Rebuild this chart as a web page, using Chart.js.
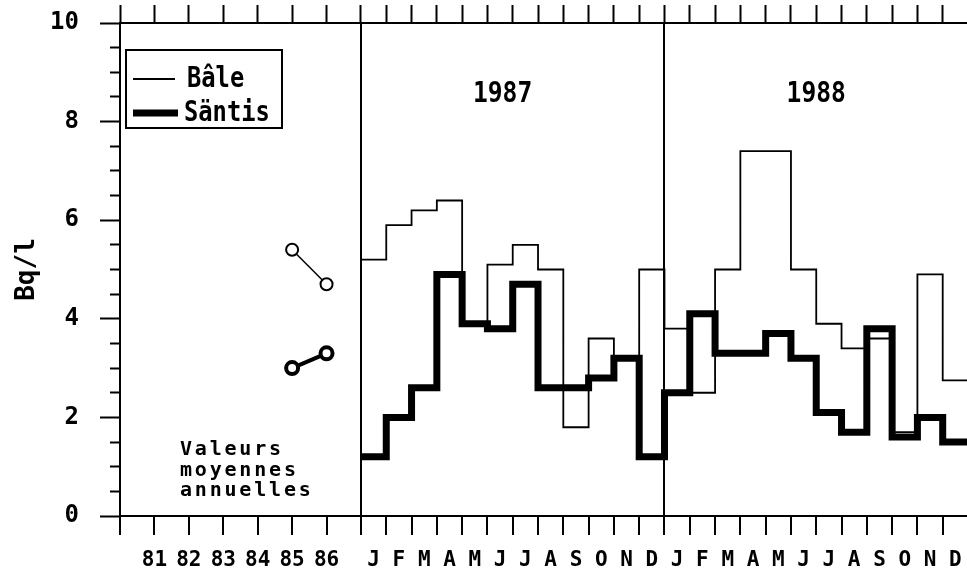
<!DOCTYPE html>
<html>
<head>
<meta charset="utf-8">
<script src="https://cdn.jsdelivr.net/npm/chart.js@4.4.0/dist/chart.umd.min.js"></script>
<style>
  html, body { margin: 0; padding: 0; background: #fff; overflow: hidden; }
  #wrap { width: 968px; height: 573px; }
</style>
</head>
<body>
<div id="wrap"><canvas id="chart" width="968" height="573"></canvas></div>
<script>
// données
const years = ['81', '82', '83', '84', '85', '86'];
const months = ['J', 'F', 'M', 'A', 'M', 'J', 'J', 'A', 'S', 'O', 'N', 'D'];
const periods = ['1987', '1988'];
const baleMonthly = [5.2, 5.9, 6.2, 6.4, 3.9, 5.1, 5.5, 5.0, 1.8, 3.6, 3.2, 5.0,
                     3.8, 2.5, 5.0, 7.4, 7.4, 5.0, 3.9, 3.4, 3.6, 1.7, 4.9, 2.75];
const santisMonthly = [1.2, 2.0, 2.6, 4.9, 3.9, 3.8, 4.7, 2.6, 2.6, 2.8, 3.2, 1.2,
                       2.5, 4.1, 3.3, 3.3, 3.7, 3.2, 2.1, 1.7, 3.8, 1.6, 2.0, 1.5];
const annualYears = ['85', '86'];
const baleAnnual = [5.4, 4.7];
const santisAnnual = [3.0, 3.3];
const annualNote = ['Valeurs', 'moyennes', 'annuelles'];

// axe x en mois, une annee de la partie gauche vaut YEAR_SPAN mois
const YEAR_SPAN = 1.361;
const START = 7 * YEAR_SPAN;
const X_MAX = START + months.length * periods.length;
const FONT = 'DejaVu Sans Mono';

const yearX = (y) => (years.indexOf(y) + 1) * YEAR_SPAN;

// escalier : debut de chaque mois + point final
const stepData = (values) => {
    const pts = values.map((v, i) => ({ x: START + i, y: v }));
    pts.push({ x: START + values.length, y: values[values.length - 1] });
    return pts;
};

const boundaryTicks = [];
for (let i = 0; i <= 7; i++) boundaryTicks.push({ value: i * YEAR_SPAN });
for (let m = 1; m <= months.length * periods.length; m++) boundaryTicks.push({ value: START + m });

const labelTicks = [];
years.forEach(y => labelTicks.push({ value: yearX(y), label: y }));
periods.forEach((p, k) => {
    months.forEach((m, i) => labelTicks.push({ value: START + k * 12 + i + 0.5, label: m }));
});

const isSeparator = (v) => Math.abs(v - START) < 1e-6 || Math.abs(v - START - 12) < 1e-6;

// pas de marge automatique autour de la zone du graphique
const noPad = (s) => {
    s.paddingTop = 0; s.paddingBottom = 0; s.paddingLeft = 0; s.paddingRight = 0;
};

// textes dans la zone du graphique + legende
const annotations = {
    id: 'annotations',
    afterDraw(chart) {
        const { ctx, chartArea, scales } = chart;
        ctx.save();
        ctx.fillStyle = '#000';
        ctx.strokeStyle = '#000';

        // titres des annees (un peu etroits, comme l'original)
        ctx.font = `bold 29px "${FONT}"`;
        ctx.textAlign = 'center';
        ctx.textBaseline = 'middle';
        [[periods[0], START + 5.6], [periods[1], START + 18]].forEach(([t, v]) => {
            ctx.save();
            ctx.translate(scales.x.getPixelForValue(v), scales.y.getPixelForValue(8.55));
            ctx.scale(0.85, 1);
            ctx.fillText(t, 0, 0);
            ctx.restore();
        });

        // note des moyennes annuelles
        ctx.font = `bold 20px "${FONT}"`;
        ctx.textAlign = 'left';
        ctx.textBaseline = 'alphabetic';
        ctx.letterSpacing = '2.8px';
        annualNote.forEach((t, i) => {
            ctx.fillText(t, chartArea.left + 60, chartArea.bottom - 61 + i * 20.5);
        });
        ctx.letterSpacing = '0px';

        // legende
        const lx = chartArea.left + 6, ly = chartArea.top + 27;
        ctx.lineWidth = 2;
        ctx.strokeRect(lx, ly, 156, 78);
        ctx.font = `bold 25px "${FONT}"`;
        ctx.textBaseline = 'middle';
        chart.data.datasets.slice(0, 2).forEach((ds, i) => {
            const yy = ly + 29 + i * 34;
            ctx.lineWidth = ds.borderWidth;
            ctx.beginPath();
            ctx.moveTo(lx + 7, yy);
            ctx.lineTo(lx + (i ? 52 : 49), yy);
            ctx.stroke();
            ctx.save();
            ctx.translate(lx + (i ? 58 : 61), yy + 1);
            ctx.scale(0.95, 1.1);
            ctx.fillText(ds.label, 0, 0);
            ctx.restore();
        });
        ctx.restore();
    }
};

new Chart(document.getElementById('chart'), {
    type: 'line',
    data: {
        datasets: [
            {
                label: 'Bâle',
                data: stepData(baleMonthly),
                stepped: true,
                borderColor: '#000',
                borderWidth: 1.8,
                pointRadius: 0,
                borderJoinStyle: 'miter'
            },
            {
                label: 'Säntis',
                data: stepData(santisMonthly),
                stepped: true,
                borderColor: '#000',
                borderWidth: 7,
                pointRadius: 0,
                borderJoinStyle: 'miter',
                borderCapStyle: 'butt'
            },
            {
                label: 'Bâle (moyenne annuelle)',
                data: annualYears.map((y, i) => ({ x: yearX(y), y: baleAnnual[i] })),
                borderColor: '#000',
                borderWidth: 1.5,
                pointRadius: 6,
                pointBorderWidth: 2,
                pointBackgroundColor: '#fff',
                pointBorderColor: '#000'
            },
            {
                label: 'Säntis (moyenne annuelle)',
                data: annualYears.map((y, i) => ({ x: yearX(y), y: santisAnnual[i] })),
                borderColor: '#000',
                borderWidth: 4,
                pointRadius: 6,
                pointBorderWidth: 4,
                pointBackgroundColor: '#fff',
                pointBorderColor: '#000'
            }
        ]
    },
    options: {
        responsive: false,
        animation: false,
        layout: { padding: 0, autoPadding: false },
        plugins: {
            legend: { display: false },
            tooltip: { enabled: false }
        },
        scales: {
            x: {
                type: 'linear',
                position: 'bottom',
                weight: 0,
                min: 0,
                max: X_MAX,
                afterBuildTicks: (s) => { s.ticks = boundaryTicks.map(t => ({ value: t.value })); },
                afterFit: (s) => { s.height = 20; noPad(s); },
                ticks: { display: false },
                grid: {
                    color: (c) => (c.tick && isSeparator(c.tick.value)) ? '#000' : 'rgba(0,0,0,0)',
                    lineWidth: 2,
                    tickColor: '#000',
                    tickWidth: 2,
                    tickLength: 19
                },
                border: { display: true, color: '#000', width: 2 }
            },
            xLab: {
                type: 'linear',
                position: 'bottom',
                weight: 1,
                min: 0,
                max: X_MAX,
                afterBuildTicks: (s) => { s.ticks = labelTicks.map(t => ({ value: t.value })); },
                afterFit: (s) => { s.height = 37; noPad(s); },
                ticks: {
                    autoSkip: false,
                    maxRotation: 0,
                    minRotation: 0,
                    padding: 12,
                    color: '#000',
                    font: { family: FONT, size: 21, weight: 'bold' },
                    callback: (v, i) => labelTicks[i] ? labelTicks[i].label : ''
                },
                grid: { display: false, drawTicks: false },
                border: { display: false }
            },
            xTop: {
                type: 'linear',
                position: 'top',
                min: 0,
                max: X_MAX,
                afterBuildTicks: (s) => { s.ticks = boundaryTicks.map(t => ({ value: t.value })); },
                afterFit: (s) => { s.height = 23; noPad(s); },
                ticks: { display: false },
                grid: {
                    drawOnChartArea: false,
                    tickColor: '#000',
                    tickWidth: 2,
                    tickLength: 18
                },
                border: { display: true, color: '#000', width: 2 }
            },
            y: {
                min: 0,
                max: 10,
                afterFit: (s) => { s.width = 120; noPad(s); },
                ticks: {
                    stepSize: 0.5,
                    autoSkip: false,
                    padding: 21,
                    color: '#000',
                    font: { family: FONT, size: 24, weight: 'bold' },
                    callback: (v) => (v % 2 === 0) ? v : ''
                },
                grid: {
                    drawOnChartArea: false,
                    tickColor: '#000',
                    tickWidth: 2,
                    tickLength: 20,
                    tickBorderDash: (c) => (c.tick && c.tick.value % 2 === 0) ? [] : [0, 10, 10, 0]
                },
                border: { display: true, color: '#000', width: 2 },
                title: {
                    display: true,
                    text: 'Bq/l',
                    color: '#000',
                    padding: { top: 12, bottom: 0 },
                    font: { family: FONT, size: 26, weight: 'bold' }
                }
            }
        }
    },
    plugins: [annotations]
});
</script>
</body>
</html>
